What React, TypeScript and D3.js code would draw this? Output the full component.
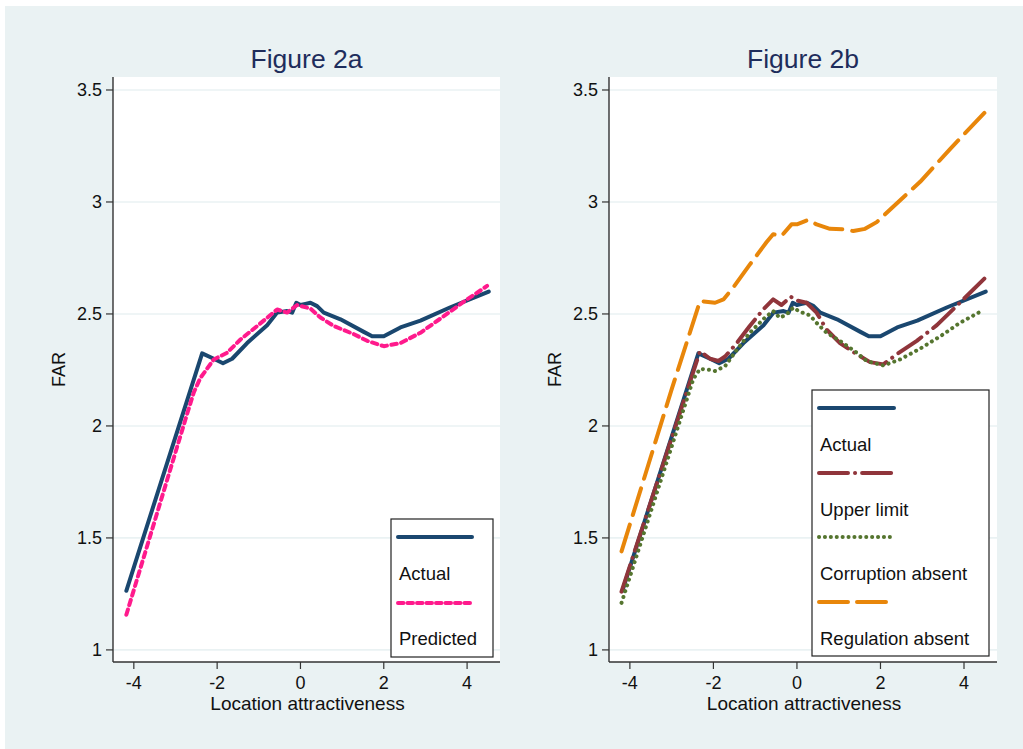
import React from "react";
import * as d3 from "d3";

// ---- Data ----
const xTicks = [-4, -2, 0, 2, 4];
const yTicks = [1, 1.5, 2, 2.5, 3, 3.5];
const yTickLabels = ["1", "1.5", "2", "2.5", "3", "3.5"];

const actualX = [-4.18, -2.36, -2.08, -1.86, -1.64, -1.28, -0.8, -0.56, -0.32, -0.2, -0.1, 0, 0.12, 0.24, 0.4, 0.56, 0.96, 1.52, 1.72, 2.0, 2.16, 2.4, 2.88, 3.6, 4.52];
const actualY = [1.264, 2.324, 2.3, 2.28, 2.3, 2.37, 2.45, 2.506, 2.513, 2.506, 2.55, 2.54, 2.545, 2.55, 2.535, 2.506, 2.476, 2.42, 2.4, 2.4, 2.416, 2.44, 2.47, 2.53, 2.6];

const predX = [-4.18, -2.76, -2.56, -2.4, -2.08, -1.76, -1.44, -1.04, -0.56, -0.32, -0.08, 0.24, 0.48, 0.8, 1.28, 1.6, 2.0, 2.4, 2.88, 3.44, 4.0, 4.48];
const predY = [1.157, 2.03, 2.15, 2.215, 2.297, 2.327, 2.386, 2.446, 2.52, 2.506, 2.54, 2.524, 2.484, 2.446, 2.41, 2.38, 2.356, 2.37, 2.416, 2.49, 2.565, 2.625];

const upperX = [-4.2, -2.32, -2.08, -1.88, -1.72, -1.44, -1.13, -0.81, -0.57, -0.37, -0.15, 0, 0.23, 0.47, 0.71, 1.03, 1.43, 1.75, 2.07, 2.39, 2.87, 3.35, 3.9, 4.5];
const upperY = [1.26, 2.334, 2.3, 2.29, 2.31, 2.37, 2.446, 2.52, 2.565, 2.54, 2.577, 2.56, 2.55, 2.506, 2.43, 2.37, 2.32, 2.285, 2.275, 2.32, 2.38, 2.45, 2.55, 2.66];

const corrX = [-4.2, -2.48, -2.32, -2.08, -1.96, -1.72, -1.44, -1.13, -0.77, -0.57, -0.41, -0.25, -0.09, 0.07, 0.31, 0.47, 0.71, 1.03, 1.43, 1.67, 2.07, 2.47, 2.95, 3.43, 3.9, 4.46];
const corrY = [1.21, 2.21, 2.255, 2.25, 2.245, 2.267, 2.34, 2.416, 2.483, 2.513, 2.483, 2.498, 2.528, 2.51, 2.494, 2.46, 2.416, 2.38, 2.327, 2.29, 2.27, 2.297, 2.345, 2.4, 2.46, 2.517];

const regX = [-4.2, -3.0, -2.32, -1.96, -1.76, -1.53, -1.13, -0.73, -0.57, -0.37, -0.13, 0, 0.27, 0.47, 0.79, 1.11, 1.35, 1.63, 1.91, 2.31, 2.95, 3.66, 4.5];
const regY = [1.44, 2.163, 2.558, 2.55, 2.565, 2.617, 2.72, 2.82, 2.856, 2.848, 2.9, 2.9, 2.92, 2.9, 2.88, 2.878, 2.87, 2.88, 2.91, 2.98, 3.09, 3.235, 3.4];

const FONT = "'Liberation Sans', Arial, Helvetica, sans-serif";
const BG = "#EAF2F3";

type Series = { name: string; xs: number[]; ys: number[]; color: string; dash: string; legendDash: string; width: number };

const seriesA: Series[] = [
  { name: "Actual", xs: actualX, ys: actualY, color: "#1A476F", dash: "", legendDash: "", width: 4 },
  { name: "Predicted", xs: predX, ys: predY, color: "#FF1A8C", dash: "5.5 4.5", legendDash: "5.5 4", width: 4 },
];
const seriesB: Series[] = [
  { name: "Actual", xs: actualX, ys: actualY, color: "#1A476F", dash: "", legendDash: "", width: 4 },
  { name: "Upper limit", xs: upperX, ys: upperY, color: "#90353B", dash: "28 7.5 0.1 7.5", legendDash: "29 7 0.1 7", width: 4 },
  { name: "Corruption absent", xs: corrX, ys: corrY, color: "#55752F", dash: "0.1 6", legendDash: "0.1 5.8", width: 4 },
  { name: "Regulation absent", xs: regX, ys: regY, color: "#E8860A", dash: "28 10", legendDash: "29 9", width: 4 },
];

type PanelProps = {
  left: number;
  right: number;
  title: string;
  series: Series[];
  legend: { x0: number; x1: number; y0: number; y1: number; lineX0: number; lineX1: number; lineYs: number[]; textYs: number[] };
};

const TOP = 77;
const BOTTOM = 662;

function Panel({ left, right, title, series, legend }: PanelProps) {
  const x = d3.scaleLinear().domain([-4.5, 4.79]).range([left, right]);
  const y = d3.scaleLinear().domain([0.946, 3.558]).range([BOTTOM, TOP]);
  const line = d3
    .line<[number, number]>()
    .x((d) => x(d[0]))
    .y((d) => y(d[1]))
    .curve(d3.curveLinear);
  return (
    <g>
      <rect x={left} y={TOP} width={right - left} height={BOTTOM - TOP} fill="#FFFFFF" />
      {yTicks.map((t) => (
        <line key={"g" + t} x1={left} x2={right} y1={y(t)} y2={y(t)} stroke={BG} strokeWidth={1.6} />
      ))}
      {series.map((s) => (
        <path
          key={s.name}
          d={line(s.xs.map((v, i) => [v, s.ys[i]] as [number, number])) || ""}
          fill="none"
          stroke={s.color}
          strokeWidth={s.width}
          strokeDasharray={s.dash || undefined}
          strokeLinecap="round"
          strokeLinejoin="round"
        />
      ))}
      {/* axes */}
      <line x1={left} x2={left} y1={TOP} y2={BOTTOM} stroke="#333" strokeWidth={1.4} />
      <line x1={left} x2={right} y1={BOTTOM} y2={BOTTOM} stroke="#333" strokeWidth={1.4} />
      {yTicks.map((t, i) => (
        <g key={"yt" + t}>
          <line x1={left - 7} x2={left} y1={y(t)} y2={y(t)} stroke="#333" strokeWidth={1.2} />
          <text x={left - 11} y={y(t) + 6} textAnchor="end" fontSize={18} fontFamily={FONT} fill="#111">
            {yTickLabels[i]}
          </text>
        </g>
      ))}
      {xTicks.map((t) => (
        <g key={"xt" + t}>
          <line x1={x(t)} x2={x(t)} y1={BOTTOM} y2={BOTTOM + 7} stroke="#333" strokeWidth={1.2} />
          <text x={x(t)} y={BOTTOM + 27} textAnchor="middle" fontSize={18} fontFamily={FONT} fill="#111">
            {t}
          </text>
        </g>
      ))}
      <text x={(left + right) / 2 + 1} y={710} textAnchor="middle" fontSize={19} fontFamily={FONT} fill="#111">
        Location attractiveness
      </text>
      <text
        transform={`translate(${left - 48},${(TOP + BOTTOM) / 2}) rotate(-90)`}
        textAnchor="middle"
        fontSize={18}
        fontFamily={FONT}
        fill="#111"
      >
        FAR
      </text>
      <text x={(left + right) / 2} y={68} textAnchor="middle" fontSize={26.5} fontFamily={FONT} fill="#1E2D5C">
        {title}
      </text>
      {/* legend */}
      <rect
        x={legend.x0}
        y={legend.y0}
        width={legend.x1 - legend.x0}
        height={legend.y1 - legend.y0}
        fill="#FFFFFF"
        stroke="#222"
        strokeWidth={1.2}
      />
      {series.map((s, i) => (
        <g key={"lg" + s.name}>
          <line
            x1={legend.lineX0}
            x2={legend.lineX1}
            y1={legend.lineYs[i]}
            y2={legend.lineYs[i]}
            stroke={s.color}
            strokeWidth={s.width}
            strokeDasharray={s.legendDash || undefined}
            strokeLinecap="round"
          />
          <text x={legend.lineX0 + 1} y={legend.textYs[i]} fontSize={18.5} fontFamily={FONT} fill="#111">
            {s.name}
          </text>
        </g>
      ))}
    </g>
  );
}

export default function App() {
  return (
    <svg width={1023} height={749} style={{ position: "absolute", left: 0, top: 0, display: "block" }}>
      <rect x={0} y={0} width={1023} height={749} fill="#FFFFFF" />
      <rect x={5} y={6} width={1018} height={743} fill={BG} />
      <Panel
        left={113}
        right={500}
        title="Figure 2a"
        series={seriesA}
        legend={{ x0: 391, x1: 493, y0: 519, y1: 657, lineX0: 398, lineX1: 472, lineYs: [537, 603], textYs: [580, 645] }}
      />
      <Panel
        left={609}
        right={997}
        title="Figure 2b"
        series={seriesB}
        legend={{
          x0: 812,
          x1: 989,
          y0: 390,
          y1: 656,
          lineX0: 819,
          lineX1: 894,
          lineYs: [408, 473, 537, 602],
          textYs: [451, 516, 580, 645],
        }}
      />
    </svg>
  );
}
